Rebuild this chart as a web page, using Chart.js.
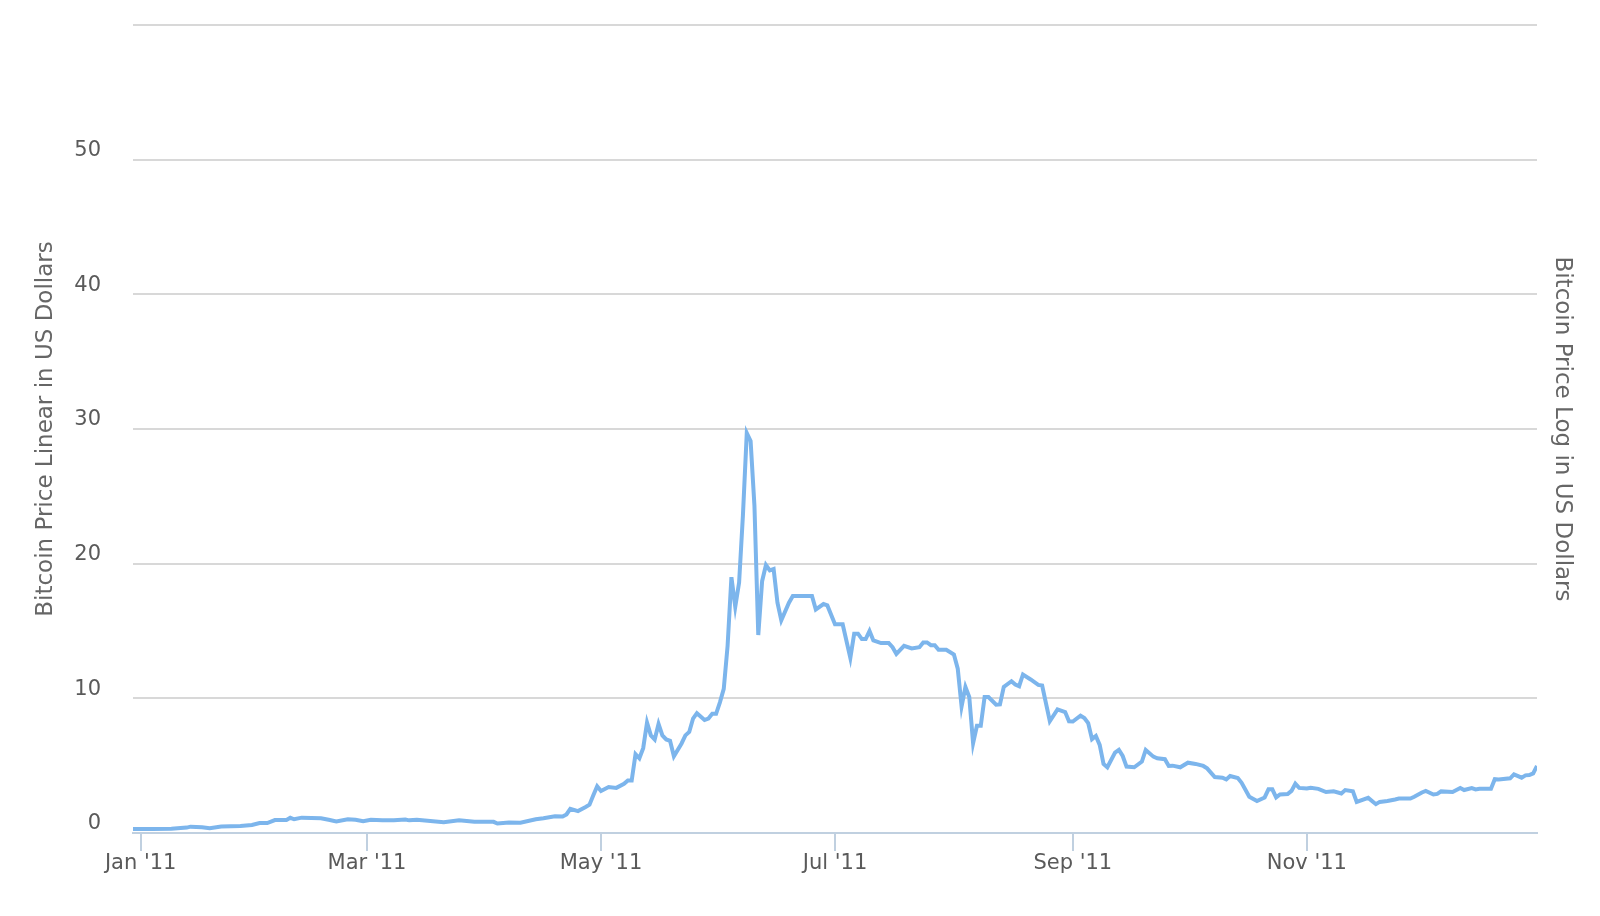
<!DOCTYPE html>
<html>
<head>
<meta charset="utf-8">
<script src="https://cdn.jsdelivr.net/npm/chart.js@4"></script>
<style>
  body { margin: 0; background: #fff; }
  #wrap { width: 1600px; height: 916px; }
</style>
</head>
<body>
<div id="wrap"><canvas id="btcChart" width="1600" height="916"></canvas></div>
<script>
// day offsets from 1 Jan 2011, and the price read for that day (USD)
const priceDays = [-2, 3, 8, 12, 13, 16, 18, 21, 26, 29, 31, 33, 35, 38, 39, 40, 42, 47, 49, 51, 54, 56, 58, 60, 63, 66, 69, 70, 72,
  79, 83, 87, 92, 93, 96, 99, 103, 105, 108, 110, 111, 112, 114, 116, 117, 118, 119, 120, 122, 124, 126, 127, 128,
  129, 130, 131, 132, 133, 134, 135, 136, 137, 138, 139, 141, 142, 143, 144, 145, 147, 148, 149, 150, 151, 152,
  153, 154, 155, 156, 157, 158, 159, 160, 161, 162, 163, 164, 165, 166, 167, 169, 170, 175, 176, 178, 179, 181,
  183, 185, 186, 187, 188, 189, 190, 191, 193, 195, 196, 197, 199, 201, 203, 204, 205, 206, 207, 208, 210, 212,
  213, 214, 215, 216, 217, 218, 219, 220, 221, 223, 224, 225, 227, 228, 229, 230, 232, 234, 235, 237, 239, 241,
  242, 243, 245, 246, 247, 248, 249, 250, 251, 252, 254, 255, 256, 257, 259, 261, 262, 264, 265, 267, 268, 269,
  271, 273, 275, 277, 278, 280, 282, 283, 284, 286, 287, 289, 291, 293, 294, 295, 296, 297, 299, 300, 301, 302,
  304, 305, 307, 309, 311, 313, 314, 316, 317, 320, 322, 323, 325, 327, 328, 331, 332, 334, 335, 337, 338, 339,
  342, 344, 345, 347, 348, 349, 352, 353, 354, 357, 358, 360, 361, 362, 363, 364];
const priceUsd = [0.30, 0.30, 0.32, 0.40, 0.47, 0.42, 0.35, 0.48, 0.52, 0.60, 0.74, 0.74, 0.96, 0.97, 1.13, 1.02, 1.14, 1.10, 0.98, 0.86, 1.02, 0.98, 0.88, 0.98, 0.95, 0.94, 1.00, 0.94, 0.98,
  0.80, 0.94, 0.83, 0.83, 0.70, 0.78, 0.76, 1.02, 1.10, 1.25, 1.22, 1.38, 1.80, 1.63, 1.93, 2.10, 2.80, 3.47, 3.12, 3.42, 3.35, 3.65, 3.90, 3.90,
  5.85, 5.55, 6.30, 8.20, 7.25, 6.95, 8.10, 7.25, 6.95, 6.85, 5.70, 6.65, 7.25, 7.50, 8.50, 8.90, 8.40, 8.50, 8.85, 8.85, 9.70, 10.70,
  13.90, 19.00, 16.80, 18.60, 23.60, 29.70, 29.10, 24.30, 14.70, 18.70, 19.90, 19.50, 19.60, 17.10, 15.80, 17.10, 17.60, 17.60, 16.60, 17.00, 16.90, 15.50,
  15.50, 13.00, 14.80, 14.80, 14.40, 14.40, 15.00, 14.30, 14.10, 14.10, 13.80, 13.30, 13.90, 13.70, 13.80, 14.15, 14.15, 13.95, 13.95, 13.60, 13.60, 13.25,
  12.20, 9.40, 10.85, 10.10, 6.67, 7.96, 7.96, 10.10, 10.10, 9.53, 9.55, 10.85, 11.27, 11.02, 10.90, 11.77, 11.40, 11.00, 10.95, 8.30, 9.18, 8.98,
  8.30, 8.28, 8.71, 8.54, 8.16, 6.97, 7.20, 6.54, 5.13, 4.88, 5.97, 6.17, 5.72, 4.93, 4.88, 5.30, 6.17, 5.67, 5.55, 5.48, 4.98, 5.00,
  4.88, 5.22, 5.13, 4.98, 4.80, 4.15, 4.11, 3.98, 4.23, 4.08, 3.73, 2.69, 2.37, 2.64, 3.24, 3.24, 2.64, 2.86, 2.89, 3.13, 3.66, 3.35,
  3.30, 3.36, 3.28, 3.04, 3.10, 2.94, 3.19, 3.09, 2.31, 2.61, 2.14, 2.31, 2.38, 2.49, 2.56, 2.56, 2.69, 3.01, 3.13, 2.86, 2.90, 3.09,
  3.04, 3.34, 3.19, 3.34, 3.24, 3.29, 3.29, 4.00, 3.98, 4.06, 4.35, 4.11, 4.28, 4.30, 4.43, 4.98];

// x axis month ticks (day offset) and their labels
const tickDays = [0, 59, 120, 181, 243, 304];
const tickLabels = ["Jan '11", "Mar '11", "May '11", "Jul '11", "Sep '11", "Nov '11"];

// y axis tick values
const yTicks = [0, 10, 20, 30, 40, 50, 60];

const points = priceDays.map((d, i) => ({ x: d, y: priceUsd[i] }));

const labelFont = { family: 'DejaVu Sans', size: 21 };
const titleFont = { family: 'DejaVu Sans', size: 23 };

const ctx = document.getElementById('btcChart').getContext('2d');
const chart = new Chart(ctx, {
  type: 'line',
  data: {
    datasets: [{
      label: 'Bitcoin Price',
      data: points,
      borderColor: '#7cb5ec',
      borderWidth: 4,
      pointRadius: 0,
      tension: 0,
      fill: false,
      xAxisID: 'x',
      yAxisID: 'y'
    }]
  },
  options: {
    responsive: false,
    animation: false,
    devicePixelRatio: 1,
    layout: { padding: { top: 25, left: 0, right: 0, bottom: 0 } },
    plugins: {
      legend: { display: false },
      tooltip: { enabled: false }
    },
    scales: {
      x: {
        type: 'linear',
        position: 'bottom',
        min: priceDays[0],
        max: priceDays[priceDays.length - 1],
        afterBuildTicks: s => { s.ticks = tickDays.map(v => ({ value: v })); },
        afterFit: s => { s.height = 83; s.paddingLeft = 0; s.paddingRight = 0; },
        ticks: {
          autoSkip: false,
          maxRotation: 0,
          padding: 0,
          color: '#5a5a5a',
          font: labelFont,
          callback: v => tickLabels[tickDays.indexOf(v)]
        },
        grid: { drawOnChartArea: false, drawTicks: true, tickLength: 18, color: '#c0d0e0', lineWidth: 2 },
        border: { display: true, color: '#c0d0e0', width: 2 }
      },
      y: {
        position: 'left',
        min: yTicks[0],
        max: yTicks[yTicks.length - 1],
        afterBuildTicks: s => { s.ticks = yTicks.map(v => ({ value: v })); },
        afterFit: s => { s.width = 133; s.paddingTop = 0; s.paddingBottom = 0; },
        ticks: {
          padding: 32,
          labelOffset: -9,
          color: '#5a5a5a',
          font: labelFont,
          callback: v => (v === 60 ? '' : v)
        },
        grid: { color: '#d8d8d8', lineWidth: 2, drawTicks: false },
        border: { display: false },
        title: {
          display: true,
          text: 'Bitcoin Price Linear in US Dollars',
          color: '#666666',
          font: titleFont,
          padding: { top: 32, bottom: 0 }
        }
      },
      y1: {
        type: 'logarithmic',
        position: 'right',
        min: 1,
        max: 100,
        afterFit: s => { s.width = 63; s.paddingTop = 0; s.paddingBottom = 0; },
        ticks: { display: false },
        grid: { display: false, drawTicks: false },
        border: { display: false },
        title: {
          display: true,
          text: 'Bitcoin Price Log in US Dollars',
          color: '#666666',
          font: titleFont,
          padding: { top: 24, bottom: 0 }
        }
      }
    }
  }
});
</script>
</body>
</html>
